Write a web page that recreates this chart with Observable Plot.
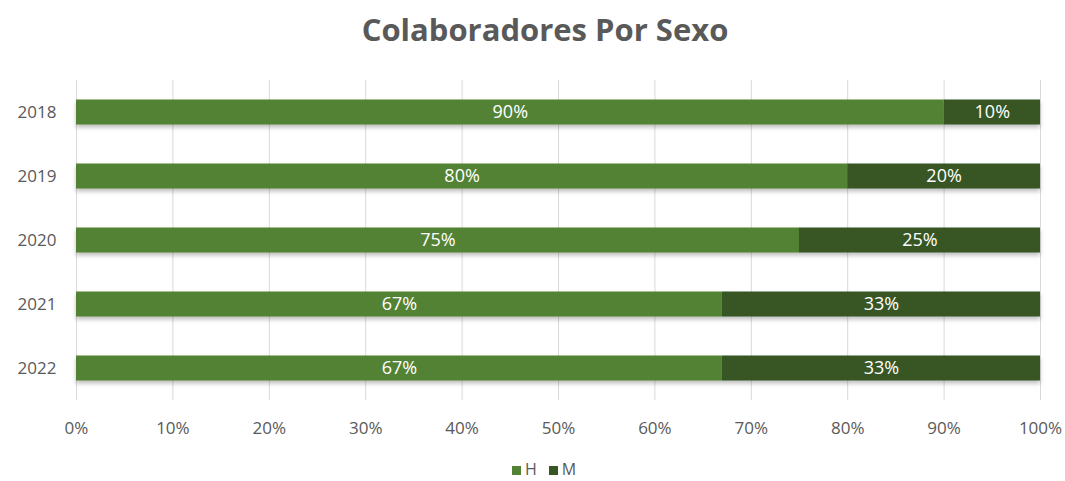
<!DOCTYPE html>
<html>
<head>
<meta charset="utf-8">
<script src="https://cdn.jsdelivr.net/npm/d3@7"></script>
<script src="https://cdn.jsdelivr.net/npm/@observablehq/plot@0.6"></script>
<style>
  html, body { margin: 0; padding: 0; background: #fff; }
  body { width: 1065px; height: 481px; position: relative; overflow: hidden; font-family: "Open Sans", sans-serif; }
  #title { position: absolute; top: 8px; left: 0; width: 1090px; text-align: center; font-size: 31px; font-weight: bold; color: #595959; line-height: 42px; }
  #chart { position: absolute; top: 60px; left: 0; }
  #legend { position: absolute; top: 462px; left: 0; width: 1088px; text-align: center; font-size: 16px; line-height: 14px; height: 14px; color: #595959; }
  #legend span.sw { display: inline-block; width: 9px; height: 9px; margin-right: 4px; vertical-align: 0px; }
  #legend span.item { margin: 0 6px; }
</style>
</head>
<body>
<div id="title">Colaboradores Por Sexo</div>
<div id="chart"></div>
<div id="legend"></div>
<script>
const years = ["2018", "2019", "2020", "2021", "2022"];
const seriesNames = ["H", "M"];
const valuesH = [0.90, 0.80, 0.75, 0.67, 0.67];
const valuesM = [0.10, 0.20, 0.25, 0.33, 0.33];
const colors = ["#548235", "#375623"];
const xTicks = [0, 0.1, 0.2, 0.3, 0.4, 0.5, 0.6, 0.7, 0.8, 0.9, 1.0];

const rows = [];
years.forEach((y, i) => {
  rows.push({year: y, series: "H", value: valuesH[i]});
  rows.push({year: y, series: "M", value: valuesM[i]});
});

const fmt = d3.format(".0%");

const chart = Plot.plot({
  width: 1065,
  height: 390,
  marginLeft: 76,
  marginRight: 25,
  marginTop: 20,
  marginBottom: 50,
  style: { fontFamily: "Open Sans, sans-serif", fontSize: "17px", color: "#595959", background: "transparent" },
  x: { domain: [0, 1], ticks: xTicks, tickFormat: fmt, tickSize: 0, tickPadding: 21, label: null },
  y: { domain: years, padding: 0, tickSize: 0, tickPadding: 20, label: null },
  color: { domain: seriesNames, range: colors },
  marks: [
    Plot.ruleX(xTicks, { stroke: "#d9d9d9", strokeWidth: 1 }),
    Plot.barX(rows, Plot.stackX({ x: "value", y: "year", fill: "series", insetTop: 19.5, insetBottom: 19.5 })),
    Plot.text(rows, Plot.stackX({ x: "value", y: "year", text: d => fmt(d.value), fill: "white", fontSize: 18 }))
  ]
});
document.getElementById("chart").appendChild(chart);
d3.select(chart).selectAll("g[aria-label='bar']").style("filter", "drop-shadow(0 3px 2px rgba(0,0,0,0.25))");

const legend = document.getElementById("legend");
seriesNames.forEach((s, i) => {
  const item = document.createElement("span");
  item.className = "item";
  item.innerHTML = `<span class="sw" style="background:${colors[i]}"></span>${s}`;
  legend.appendChild(item);
});
</script>
</body>
</html>
